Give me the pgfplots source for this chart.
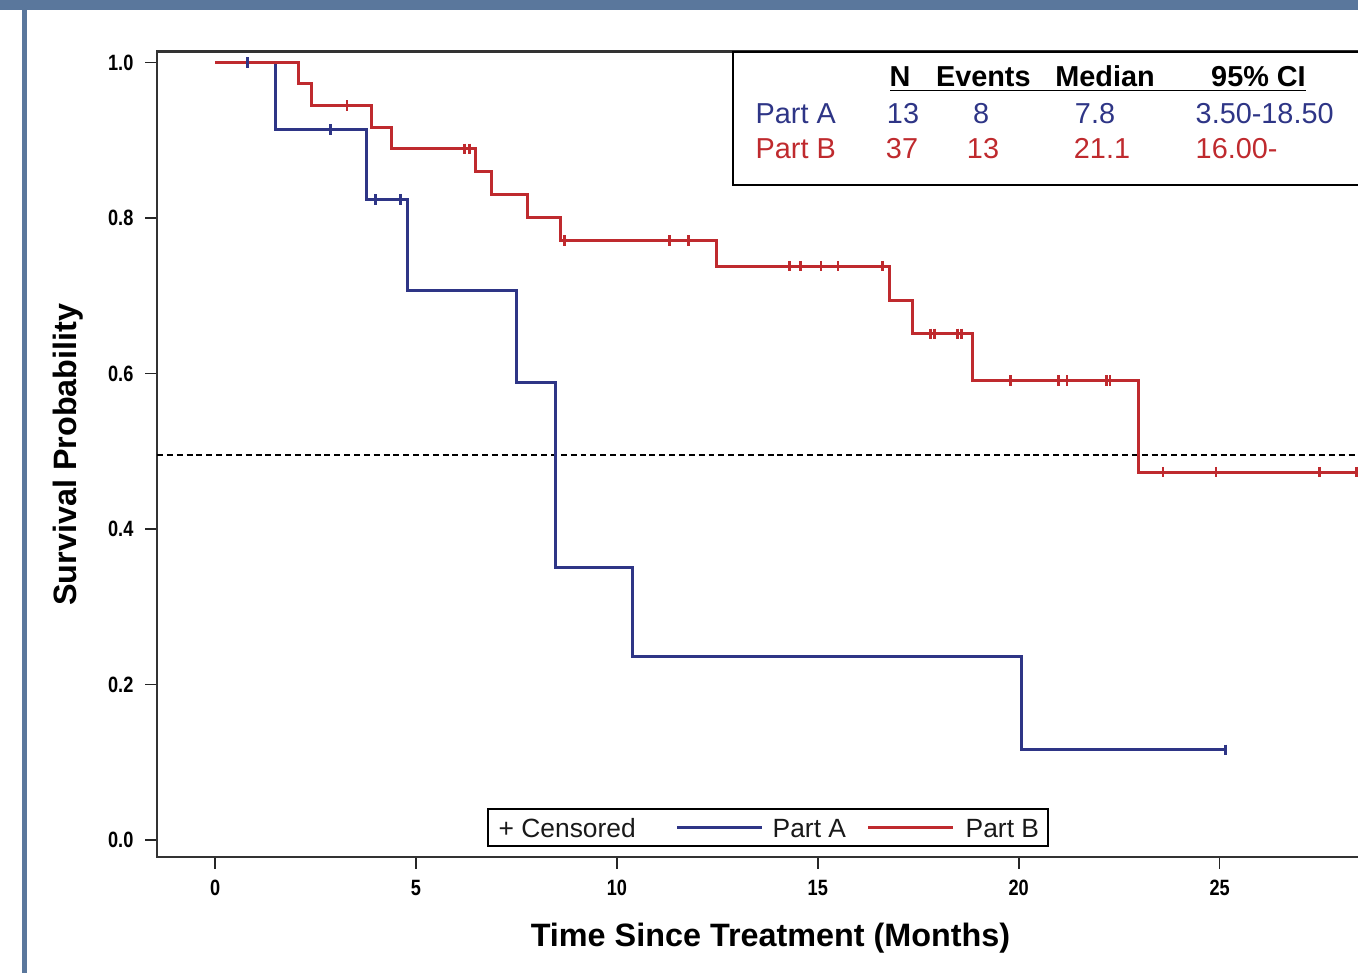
\documentclass[border=0pt]{standalone}
\usepackage{pgfplots}
\pgfplotsset{compat=1.18}
\usepackage{fontspec}
\setmainfont{Liberation Sans}
\newfontfamily\tickfont[FakeStretch=0.82]{Liberation Sans}
\definecolor{partA}{HTML}{2E3586}
\definecolor{partB}{HTML}{BF2A2E}
\definecolor{frameblue}{HTML}{5A779C}

\begin{document}
\begin{tikzpicture}[x=0.01cm,y=0.01cm]
\path[use as bounding box] (0,0) rectangle (1358,972);
\fill[frameblue] (0,962) rectangle (1400,980);
\fill[frameblue] (22,-10) rectangle (27,972);

\begin{axis}[
  at={(1.57cm,1.15cm)}, anchor=south west,
  scale only axis, width=12.43cm, height=8.05cm,
  xmin=-1.445, xmax=29.51, ymin=-0.0219, ymax=1.0142,
  xtick={0,5,10,15,20,25},
  ytick={0,0.2,0.4,0.6,0.8,1.0},
  tick align=outside, tick pos=left,
  major tick length=0.12cm,
  axis line style={line width=0.6pt, black!80},
  every tick/.style={line width=0.45pt, black!85},
  /pgf/number format/assume math mode=true,
  yticklabel style={/pgf/number format/fixed, /pgf/number format/fixed zerofill, /pgf/number format/precision=1},
  ticklabel style={font=\tickfont\bfseries\fontsize{6.3}{7.2}\selectfont, inner sep=0pt},
  xticklabel style={anchor=base, yshift=-0.265cm},
  yticklabel style={anchor=east, xshift=-0.11cm},
  xlabel={Time Since Treatment (Months)},
  ylabel={Survival Probability},
  label style={font=\bfseries\fontsize{9.2}{11}\selectfont, inner sep=0pt},
  xlabel style={at={(axis description cs:0.4932,-0.1106)}, anchor=base},
  ylabel style={at={(axis description cs:-0.0646,0.4994)}, anchor=base},
  clip=false,
]
% median reference line
\addplot[black, line width=0.55pt, dash pattern=on 1.7pt off 1.1pt] coordinates {(-1.445,0.4955) (29.51,0.4955)};

% Part A
\addplot[const plot, partA, line width=0.85pt] coordinates {
 (0,1.0) (1.49,0.914) (3.76,0.824) (4.79,0.707) (7.50,0.589) (8.47,0.351) (10.39,0.2355) (20.07,0.1158) (25.15,0.1158)};
\addplot[only marks, mark=|, mark size=1.5pt, partA, line width=0.8pt] coordinates {
 (0.80,1.0) (2.88,0.914) (3.99,0.824) (4.61,0.824) (25.15,0.1158)};

% Part B
\addplot[const plot, partB, line width=0.85pt] coordinates {
 (0,1.0) (2.07,0.973) (2.39,0.9447) (3.88,0.917) (4.38,0.889) (6.48,0.860) (6.87,0.8305) (7.77,0.801) (8.59,0.771) (12.47,0.738) (16.79,0.694) (17.35,0.651) (18.86,0.591) (22.98,0.473) (28.45,0.473)};
\addplot[only marks, mark=|, mark size=1.5pt, partB, line width=0.8pt] coordinates {
 (3.28,0.9447)
 (6.20,0.889) (6.33,0.889)
 (8.69,0.771) (11.30,0.771) (11.79,0.771)
 (14.30,0.738) (14.57,0.738) (15.08,0.738) (15.50,0.738) (16.60,0.738)
 (17.81,0.651) (17.91,0.651) (18.47,0.651) (18.57,0.651)
 (19.79,0.591) (20.99,0.591) (21.20,0.591) (22.18,0.591) (22.27,0.591)
 (23.59,0.473) (24.91,0.473) (27.48,0.473) (28.40,0.473)};
\end{axis}

% summary table
\draw[line width=0.5pt, black] (733,920) rectangle (1420,787);
\begin{scope}[every node/.style={inner sep=0pt, font=\fontsize{8.2}{9.5}\selectfont}]
\node[anchor=base, font=\bfseries\fontsize{8.2}{9.5}\selectfont] at (900,885.3) {N};
\node[anchor=base, font=\bfseries\fontsize{8.2}{9.5}\selectfont] at (983.3,885.3) {Events};
\node[anchor=base, font=\bfseries\fontsize{8.2}{9.5}\selectfont] at (1105,885.3) {Median};
\node[anchor=base, font=\bfseries\fontsize{8.2}{9.5}\selectfont] at (1258.5,885.3) {95\% CI};
\draw[line width=0.45pt] (890,881.3) -- (1306,881.3);
\node[anchor=base west, text=partA] at (755,848.7) {Part A};
\node[anchor=base, text=partA] at (903,848.7) {13};
\node[anchor=base, text=partA] at (981,848.7) {8};
\node[anchor=base, text=partA] at (1095,848.7) {7.8};
\node[anchor=base west, text=partA] at (1195,848.7) {3.50-18.50};
\node[anchor=base west, text=partB] at (755,813) {Part B};
\node[anchor=base, text=partB] at (902,813) {37};
\node[anchor=base, text=partB] at (983,813) {13};
\node[anchor=base, text=partB] at (1102,813) {21.1};
\node[anchor=base west, text=partB] at (1195,813) {16.00-};
\end{scope}

% bottom legend
\draw[line width=0.45pt, black] (488,163) rectangle (1048,126);
\begin{scope}[every node/.style={inner sep=0pt, font=\fontsize{7.5}{9}\selectfont, text=black!90}]
\node[anchor=base west] at (498,135) {+ Censored};
\draw[partA, line width=0.85pt] (677,145) -- (762,145);
\node[anchor=base west] at (772,135) {Part A};
\draw[partB, line width=0.85pt] (868,145) -- (953,145);
\node[anchor=base west] at (965,135) {Part B};
\end{scope}
\end{tikzpicture}
\end{document}
